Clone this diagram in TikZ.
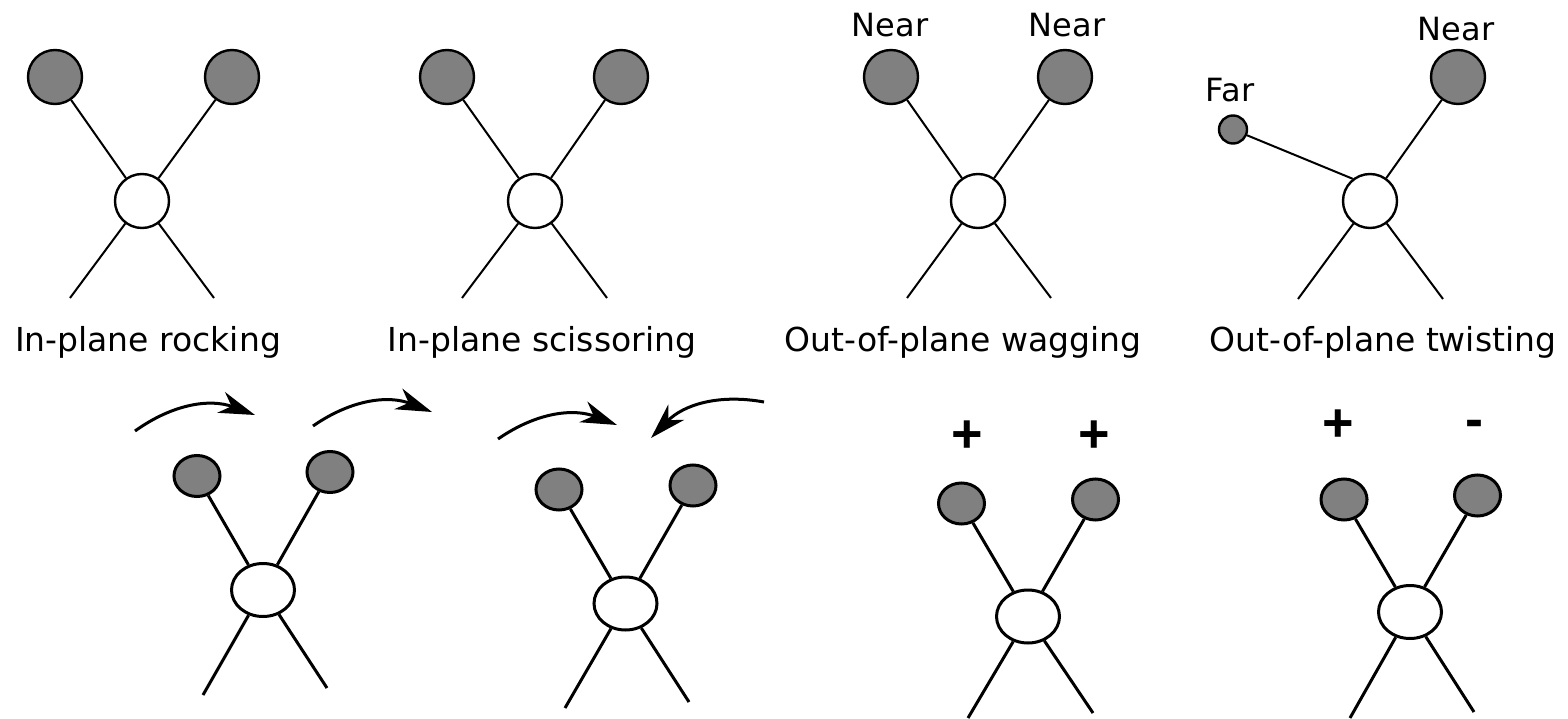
\documentclass[tikz,border=0pt]{standalone}
\usepackage{fontspec}
\setmainfont{DejaVu Sans}
\newfontfamily\signfont{Liberation Sans}
\usetikzlibrary{shapes.geometric,arrows.meta}
\tikzset{
  topatom/.style={circle,draw,line width=2.4pt,fill=gray,minimum size=54pt,inner sep=0pt},
  topcenter/.style={topatom,fill=white},
  faratom/.style={topatom,minimum size=28pt},
  topbond/.style={line width=2pt},
  botatom/.style={ellipse,draw,line width=3pt,fill=gray,minimum width=46pt,minimum height=41pt,inner sep=0pt},
  botcenter/.style={botatom,fill=white,minimum width=63pt,minimum height=53pt},
  botbond/.style={line width=3pt},
  arr/.style={line width=3pt,-{Stealth[length=36pt,width=22pt,inset=11pt]}},
  lab/.style={anchor=base,inner sep=0pt,font=\fontsize{33pt}{38pt}\selectfont},
  toplab/.style={anchor=base,inner sep=0pt,font=\fontsize{32pt}{38pt}\selectfont},
  sign/.style={anchor=base,inner sep=0pt,font=\signfont\bfseries\fontsize{54pt}{60pt}\selectfont}
}
\begin{document}
\begin{tikzpicture}[x=1pt,y=-1pt]
\useasboundingbox[fill=white] (0,0) rectangle (1568,719);

% ---------- top row ----------
% D1 rocking
\node[topatom] (a1) at (55,77) {};
\node[topatom] (b1) at (232,77) {};
\node[topcenter] (c1) at (142,201) {};
\coordinate (l1) at (70,298);
\coordinate (r1) at (214,298);
\draw[topbond] (a1) -- (c1); \draw[topbond] (b1) -- (c1);
\draw[topbond] (c1) -- (l1); \draw[topbond] (c1) -- (r1);
\node[lab] (t1) at (148,351) {In-plane rocking};

% D2 scissoring
\node[topatom] (a2) at (447,77) {};
\node[topatom] (b2) at (621,77) {};
\node[topcenter] (c2) at (535,201) {};
\coordinate (l2) at (462,298);
\coordinate (r2) at (607,298);
\draw[topbond] (a2) -- (c2); \draw[topbond] (b2) -- (c2);
\draw[topbond] (c2) -- (l2); \draw[topbond] (c2) -- (r2);
\node[lab] (t2) at (542,351) {In-plane scissoring};

% D3 wagging
\node[topatom] (a3) at (891,77) {};
\node[topatom] (b3) at (1065,77) {};
\node[topcenter] (c3) at (978,201) {};
\coordinate (l3) at (907,298);
\coordinate (r3) at (1051,298);
\draw[topbond] (a3) -- (c3); \draw[topbond] (b3) -- (c3);
\draw[topbond] (c3) -- (l3); \draw[topbond] (c3) -- (r3);
\node[toplab] (n3a) at (890,37) {Near};
\node[toplab] (n3b) at (1067,37) {Near};
\node[lab] (t3) at (963,351) {Out-of-plane wagging};

% D4 twisting
\node[faratom] (a4) at (1233,129.5) {};
\node[topatom] (b4) at (1458,77) {};
\node[topcenter] (c4) at (1370,201) {};
\coordinate (l4) at (1298,299);
\coordinate (r4) at (1443,299);
\draw[topbond] (a4) -- (c4.128); \draw[topbond] (b4) -- (c4);
\draw[topbond] (c4) -- (l4); \draw[topbond] (c4) -- (r4);
\node[toplab] (f4) at (1230,102) {Far};
\node[toplab] (n4) at (1456,41) {Near};
\node[lab] (t4) at (1383,351) {Out-of-plane twisting};

% ---------- bottom row ----------
% B1
\node[botatom] (ba1) at (197,476) {};
\node[botatom] (bb1) at (330,472) {};
\node[botcenter] (bc1) at (263,590) {};
\coordinate (bl1) at (203,695);
\coordinate (br1) at (327,688);
\draw[botbond] (ba1) -- (bc1); \draw[botbond] (bb1) -- (bc1);
\draw[botbond] (bc1) -- (bl1); \draw[botbond] (bc1) -- (br1);
\coordinate (s1a) at (135,431); \coordinate (e1a) at (255,415);
\coordinate (s1b) at (313,426); \coordinate (e1b) at (432,412);
\draw[arr] (s1a) to[bend left=28] (e1a);
\draw[arr] (s1b) to[bend left=28] (e1b);

% B2
\node[botatom] (ba2) at (559,489.5) {};
\node[botatom] (bb2) at (693,485.5) {};
\node[botcenter] (bc2) at (625.5,603.5) {};
\coordinate (bl2) at (565,708);
\coordinate (br2) at (689,702);
\draw[botbond] (ba2) -- (bc2); \draw[botbond] (bb2) -- (bc2);
\draw[botbond] (bc2) -- (bl2); \draw[botbond] (bc2) -- (br2);
\coordinate (s2a) at (498,439); \coordinate (e2a) at (617,425);
\coordinate (s2b) at (764,402); \coordinate (e2b) at (651,438);
\draw[arr] (s2a) to[bend left=28] (e2a);
\draw[arr] (s2b) to[bend right=28] (e2b);

% B3
\node[botatom] (ba3) at (961.5,503.5) {};
\node[botatom] (bb3) at (1095.5,499.5) {};
\node[botcenter] (bc3) at (1028,616.5) {};
\coordinate (bl3) at (968,718);
\coordinate (br3) at (1093,713);
\draw[botbond] (ba3) -- (bc3); \draw[botbond] (bb3) -- (bc3);
\draw[botbond] (bc3) -- (bl3); \draw[botbond] (bc3) -- (br3);
\node[sign] (p3a) at (967,452) {+};
\node[sign] (p3b) at (1094,452) {+};

% B4
\node[botatom] (ba4) at (1344,499.5) {};
\node[botatom] (bb4) at (1477.5,495.5) {};
\node[botcenter] (bc4) at (1410,612) {};
\coordinate (bl4) at (1350,718);
\coordinate (br4) at (1474,712);
\draw[botbond] (ba4) -- (bc4); \draw[botbond] (bb4) -- (bc4);
\draw[botbond] (bc4) -- (bl4); \draw[botbond] (bc4) -- (br4);
\node[sign] (p4a) at (1338,441) {+};
\node[sign] (m4b) at (1474,437) {-};
\end{tikzpicture}
\end{document}
